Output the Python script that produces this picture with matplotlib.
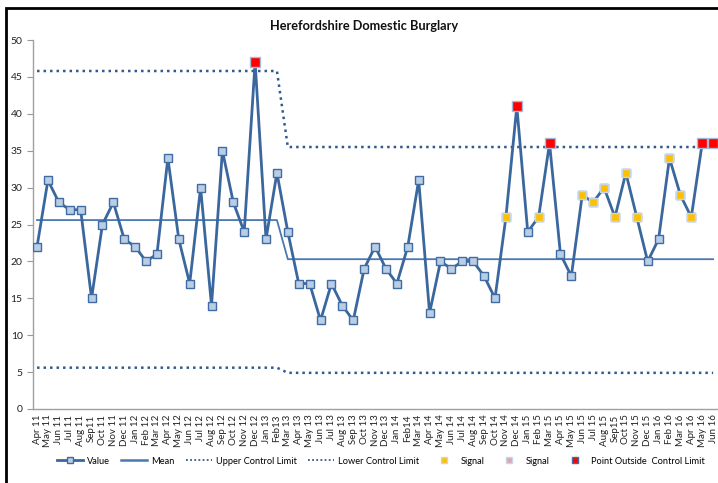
import matplotlib
matplotlib.use("Agg")
import matplotlib.pyplot as plt
import numpy as np
from matplotlib.lines import Line2D
from matplotlib.patches import Rectangle

plt.rcParams['font.family'] = ['Lato', 'DejaVu Sans']

months = ["Apr 11", "May 11", "Jun 11", "Jul 11", "Aug 11", "Sep11", "Oct 11", "Nov 11", "Dec 11",
          "Jan 12", "Feb 12", "Mar 12", "Apr 12", "May 12", "Jun 12", "Jul 12", "Aug 12", "Sep 12",
          "Oct 12", "Nov 12", "Dec 12", "Jan 13", "Feb13", "Mar 13", "Apr 13", "May 13", "Jun 13",
          "Jul 13", "Aug 13", "Sep 13", "Oct 13", "Nov 13", "Dec 13", "Jan 14", "Feb14", "Mar 14",
          "Apr 14", "May 14", "Jun 14", "Jul 14", "Aug 14", "Sep 14", "Oct 14", "Nov 14", "Dec 14",
          "Jan 15", "Feb 15", "Mar 15", "Apr 15", "May 15", "Jun 15", "Jul 15", "Aug 15", "Sep15",
          "Oct 15", "Nov 15", "Dec 15", "Jan 16", "Feb 16", "Mar 16", "Apr 16", "May 16", "Jun 16"]

values = [22, 31, 28, 27, 27, 15, 25, 28, 23, 22, 20, 21, 34, 23, 17, 30, 14, 35, 28, 24, 47,
          23, 32, 24, 17, 17, 12, 17, 14, 12, 19, 22, 19, 17, 22, 31, 13, 20, 19, 20, 20, 18,
          15, 26, 41, 24, 26, 36, 21, 18, 29, 28, 30, 26, 32, 26, 20, 23, 34, 29, 26, 36, 36]

# process periods: (first month of period, mean, UCL, LCL)
period_starts = ["Apr 11", "Mar 13"]
period_mean = [25.6, 20.3]
period_ucl = [45.8, 35.5]
period_lcl = [5.6, 4.9]

signal_months = ["Nov 14", "Feb 15", "Jun 15", "Jul 15", "Aug 15", "Sep15", "Oct 15", "Nov 15",
                 "Feb 16", "Mar 16", "Apr 16"]
outside_months = ["Dec 12", "Dec 14", "Mar 15", "May 16", "Jun 16"]

n = len(months)
x = np.arange(n)
starts_idx = [months.index(m) for m in period_starts] + [n]
mean_arr = np.zeros(n); ucl_arr = np.zeros(n); lcl_arr = np.zeros(n)
for k in range(len(period_starts)):
    s, e = starts_idx[k], starts_idx[k + 1]
    mean_arr[s:e] = period_mean[k]
    ucl_arr[s:e] = period_ucl[k]
    lcl_arr[s:e] = period_lcl[k]

fig = plt.figure(figsize=(7.18, 4.83), dpi=100)
ax = fig.add_axes([33 / 718, 1 - 409 / 483, 685 / 718, 369 / 483])

line_col = '#3A679E'
ax.plot(x, ucl_arr, linestyle=(0, (1, 1.6)), color='#2F5B8C', lw=1.8, zorder=2)
ax.plot(x, lcl_arr, linestyle=(0, (1, 1.6)), color='#2F5B8C', lw=1.8, zorder=2)
ax.plot(x, mean_arr, color='#4A78B0', lw=1.3, zorder=2)
ax.plot(x, values, color=line_col, lw=2.0, marker='s', ms=5.5, mfc='#B9CDE5', mec='#3F6CA3',
        mew=1.0, zorder=3)

si = [months.index(m) for m in signal_months]
ax.plot(si, [values[i] for i in si], linestyle='none', marker='s', ms=5.5, mfc='#FFC000',
        mec='#C9D6E8', mew=1.0, zorder=4)
oi = [months.index(m) for m in outside_months]
ax.plot(oi, [values[i] for i in oi], linestyle='none', marker='s', ms=7, mfc='#FF0000',
        mec='#A9B9DA', mew=1.0, zorder=5)

ax.set_xlim(-0.37, n - 1 + 0.45)
ax.set_ylim(0, 50)
ax.set_yticks(range(0, 51, 5))
ax.set_xticks(x)
ax.set_xticklabels(months, rotation=90, fontsize=7, color='#222222')
ax.tick_params(axis='y', labelsize=7.5, colors='#222222', length=4, width=0.8, color='#999999')
ax.tick_params(axis='x', length=0, pad=4)
for s in ['top', 'right']:
    ax.spines[s].set_visible(False)
for s in ['left', 'bottom']:
    ax.spines[s].set_color('#A0A0A0')
    ax.spines[s].set_linewidth(1.0)

fig.text(0.5 + 5 / 718, 1 - 26 / 483, "Herefordshire Domestic Burglary", ha='center', va='center',
         fontsize=9.2, fontweight='bold', color='#111111')

handles = [
    Line2D([], [], color=line_col, lw=2.0, marker='s', ms=5, mfc='#B9CDE5', mec='#3F6CA3'),
    Line2D([], [], color='#4A78B0', lw=1.8),
    Line2D([], [], color='#2F5B8C', lw=1.3, linestyle=(0, (1, 1.3))),
    Line2D([], [], color='#2F5B8C', lw=1.3, linestyle=(0, (1, 1.3))),
    Line2D([], [], linestyle='none', marker='s', ms=5, mfc='#FFC000', mec='#C9D6E8'),
    Line2D([], [], linestyle='none', marker='s', ms=5, mfc='#D7A7B2', mec='#C9D6E8'),
    Line2D([], [], linestyle='none', marker='s', ms=5, mfc='#FF0000', mec='#3F6CA3'),
]
labels = ["Value", "Mean", "Upper Control Limit", "Lower Control Limit", "Signal", "Signal",
          "Point Outside  Control Limit"]
fig.legend(handles, labels, loc='center', bbox_to_anchor=(381 / 718, 1 - 461 / 483), ncol=7,
           frameon=False, fontsize=6.7, handlelength=2.8, columnspacing=1.25, handletextpad=0.4)

# figure frame (left and top edges visible; the rest is cropped)
fig.add_artist(Rectangle((6 / 718, -0.05), 1.1, 1 - 8 / 483 + 0.05, transform=fig.transFigure,
                         fill=False, edgecolor='black', lw=2.0))

fig.savefig("out.png", dpi=100)
